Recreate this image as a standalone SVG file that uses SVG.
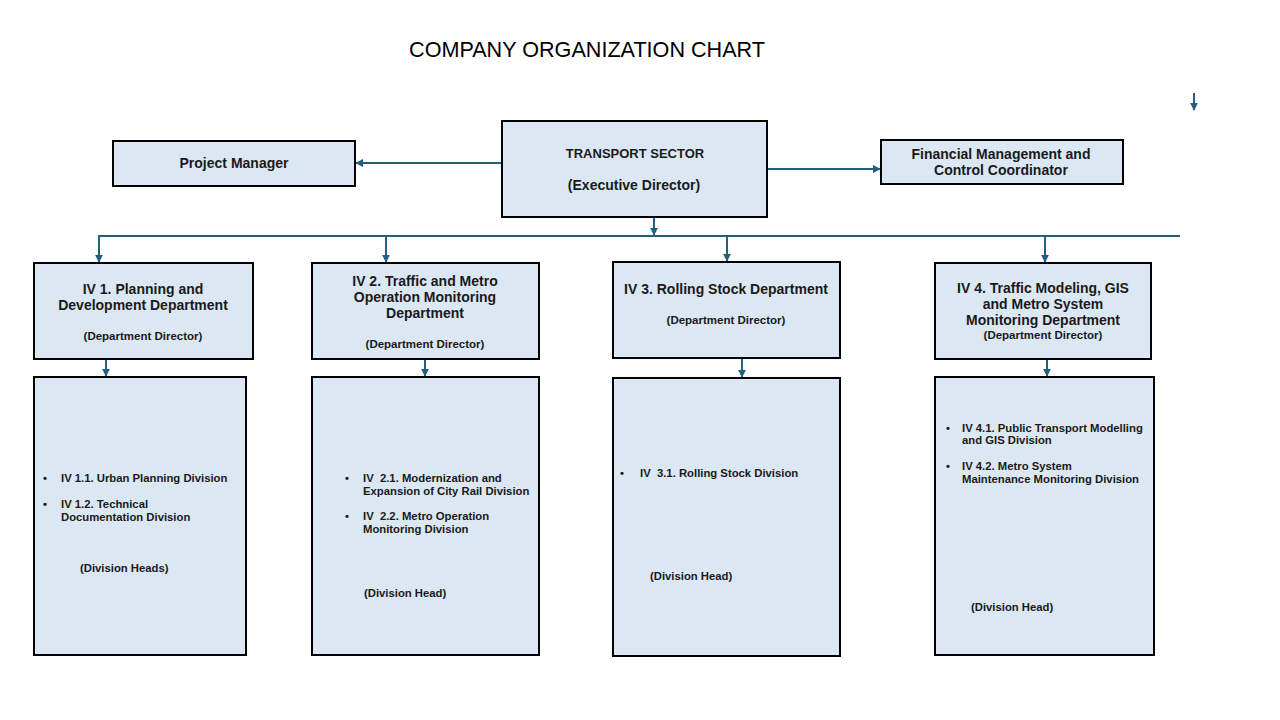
<svg xmlns="http://www.w3.org/2000/svg" width="1280" height="720" viewBox="0 0 1280 720">
<style>
.box{fill:#dce7f4;stroke:#000;stroke-width:2}
.c{fill:none;stroke:#23607e;stroke-width:2}
.t{font-family:"Liberation Sans",Arial,sans-serif;font-weight:bold;fill:#1a1a1a}
.h{font-size:14px;text-anchor:middle}
.s{font-size:11.5px;text-anchor:middle}
.d{font-size:11.3px}
</style>
<defs>
<marker id="ah" viewBox="0 0 10 10" refX="9" refY="5" markerWidth="8" markerHeight="8" markerUnits="userSpaceOnUse" orient="auto">
<path d="M0,0 L10,5 L0,10 z" fill="#23607e"/>
</marker>
</defs>
<rect width="1280" height="720" fill="#fff"/>
<text x="587" y="57" font-family="Liberation Sans,Arial,sans-serif" font-size="21.6" text-anchor="middle" fill="#000">COMPANY ORGANIZATION CHART</text>

<g id="connectors">
<line class="c" x1="502" y1="163" x2="356" y2="163" marker-end="url(#ah)"/>
<line class="c" x1="767" y1="169" x2="880" y2="169" marker-end="url(#ah)"/>
<line class="c" x1="654" y1="217" x2="654" y2="235" marker-end="url(#ah)"/>
<line class="c" x1="98" y1="236" x2="1180" y2="236"/>
<line class="c" x1="99" y1="236" x2="99" y2="262" marker-end="url(#ah)"/>
<line class="c" x1="386" y1="236" x2="386" y2="262" marker-end="url(#ah)"/>
<line class="c" x1="727" y1="236" x2="727" y2="261" marker-end="url(#ah)"/>
<line class="c" x1="1045" y1="236" x2="1045" y2="262" marker-end="url(#ah)"/>
<line class="c" x1="1194" y1="93" x2="1194" y2="110" marker-end="url(#ah)"/>
<line class="c" x1="106" y1="359" x2="106" y2="376" marker-end="url(#ah)"/>
<line class="c" x1="425" y1="359" x2="425" y2="376" marker-end="url(#ah)"/>
<line class="c" x1="742" y1="358" x2="742" y2="377" marker-end="url(#ah)"/>
<line class="c" x1="1047" y1="359" x2="1047" y2="376" marker-end="url(#ah)"/>
</g>

<g id="project-manager">
<rect class="box" x="113" y="141" width="242" height="45"/>
<text class="t h" x="234" y="168">Project Manager</text>
</g>

<g id="transport-sector">
<rect class="box" x="502" y="121" width="265" height="96"/>
<text class="t" x="635" y="158" font-size="13" text-anchor="middle">TRANSPORT SECTOR</text>
<text class="t h" x="634" y="190">(Executive Director)</text>
</g>

<g id="financial">
<rect class="box" x="881" y="140" width="242" height="44"/>
<text class="t h" x="1001" y="159">Financial Management and</text>
<text class="t h" x="1001" y="175">Control Coordinator</text>
</g>

<g id="dept1">
<rect class="box" x="34" y="263" width="219" height="96"/>
<text class="t h" x="143" y="294">IV 1. Planning and</text>
<text class="t h" x="143" y="310">Development Department</text>
<text class="t s" x="143" y="340">(Department Director)</text>
</g>

<g id="dept2">
<rect class="box" x="312" y="263" width="227" height="96"/>
<text class="t h" x="425" y="286">IV 2. Traffic and Metro</text>
<text class="t h" x="425" y="302">Operation Monitoring</text>
<text class="t h" x="425" y="318">Department</text>
<text class="t s" x="425" y="348">(Department Director)</text>
</g>

<g id="dept3">
<rect class="box" x="613" y="262" width="227" height="96"/>
<text class="t h" x="726" y="294">IV 3. Rolling Stock Department</text>
<text class="t s" x="726" y="324">(Department Director)</text>
</g>

<g id="dept4">
<rect class="box" x="935" y="263" width="216" height="96"/>
<text class="t h" x="1043" y="293">IV 4. Traffic Modeling, GIS</text>
<text class="t h" x="1043" y="309">and Metro System</text>
<text class="t h" x="1043" y="325">Monitoring Department</text>
<text class="t s" x="1043" y="339">(Department Director)</text>
</g>

<g id="div1">
<rect class="box" x="34" y="377" width="212" height="278"/>
<text class="t d" x="43" y="482">•</text>
<text class="t d" x="61" y="482">IV 1.1. Urban Planning Division</text>
<text class="t d" x="43" y="508">•</text>
<text class="t d" x="61" y="508">IV 1.2. Technical</text>
<text class="t d" x="61" y="521">Documentation Division</text>
<text class="t d" x="80" y="572">(Division Heads)</text>
</g>

<g id="div2">
<rect class="box" x="312" y="377" width="227" height="278"/>
<text class="t d" x="345" y="482">•</text>
<text class="t d" x="363" y="482" xml:space="preserve">IV  2.1. Modernization and</text>
<text class="t d" x="363" y="495">Expansion of City Rail Division</text>
<text class="t d" x="345" y="520">•</text>
<text class="t d" x="363" y="520" xml:space="preserve">IV  2.2. Metro Operation</text>
<text class="t d" x="363" y="533">Monitoring Division</text>
<text class="t d" x="364" y="597">(Division Head)</text>
</g>

<g id="div3">
<rect class="box" x="613" y="378" width="227" height="278"/>
<text class="t d" x="620" y="477">•</text>
<text class="t d" x="640" y="477" xml:space="preserve">IV  3.1. Rolling Stock Division</text>
<text class="t d" x="650" y="580">(Division Head)</text>
</g>

<g id="div4">
<rect class="box" x="935" y="377" width="219" height="278"/>
<text class="t d" x="946" y="432">•</text>
<text class="t d" x="962" y="432">IV 4.1. Public Transport Modelling</text>
<text class="t d" x="962" y="444">and GIS Division</text>
<text class="t d" x="946" y="470">•</text>
<text class="t d" x="962" y="470">IV 4.2. Metro System</text>
<text class="t d" x="962" y="483">Maintenance Monitoring Division</text>
<text class="t d" x="971" y="611">(Division Head)</text>
</g>
</svg>
